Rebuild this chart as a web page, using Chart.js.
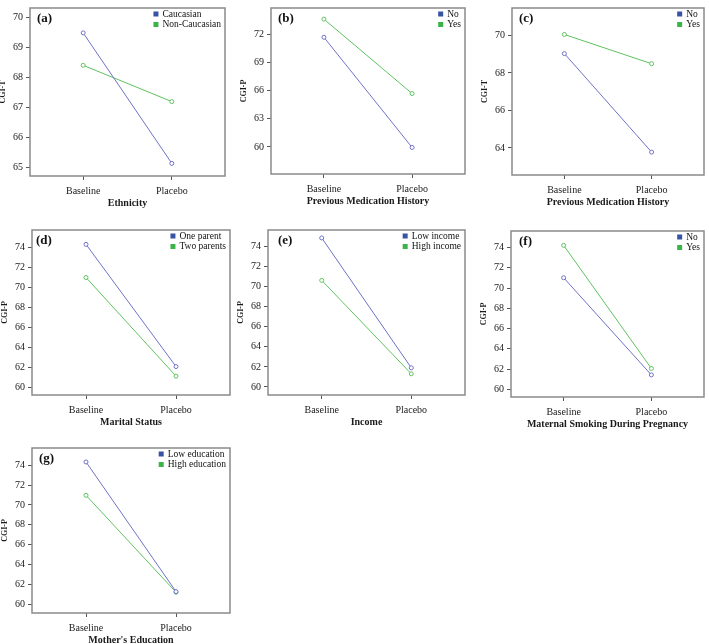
<!DOCTYPE html>
<html>
<head>
<meta charset="utf-8">
<script src="https://cdn.jsdelivr.net/npm/chart.js@4"></script>
<style>
  html, body { margin: 0; padding: 0; background: #fff; }
  body { width: 709px; height: 644px; position: relative; overflow: hidden; }
  canvas { position: absolute; }
</style>
</head>
<body>
<script>
// categories on the x axis (shared by every panel)
const categories = ['Baseline', 'Placebo'];

// (a) Ethnicity, CGI-T
const ethnicityGroups = ['Caucasian', 'Non-Caucasian'];
const caucasian = [69.48, 65.13];
const nonCaucasian = [68.40, 67.19];
const ticksA = [65, 66, 67, 68, 69, 70];

// (b) Previous medication history, CGI-P
const medGroupsB = ['No', 'Yes'];
const medNoP = [71.72, 59.94];
const medYesP = [73.66, 65.70];
const ticksB = [60, 63, 66, 69, 72];

// (c) Previous medication history, CGI-T
const medGroupsC = ['No', 'Yes'];
const medNoT = [69.03, 63.78];
const medYesT = [70.05, 68.49];
const ticksC = [64, 66, 68, 70];

// (d) Marital status, CGI-P
const maritalGroups = ['One parent', 'Two parents'];
const oneParent = [74.29, 62.05];
const twoParents = [70.97, 61.09];

// (e) Income, CGI-P
const incomeGroups = ['Low income', 'High income'];
const lowIncome = [74.86, 61.91];
const highIncome = [70.63, 61.31];

// (f) Maternal smoking, CGI-P
const smokingGroups = ['No', 'Yes'];
const smokingNo = [71.02, 61.42];
const smokingYes = [74.22, 62.06];

// (g) Mother's education, CGI-P
const educationGroups = ['Low education', 'High education'];
const lowEducation = [74.33, 61.26];
const highEducation = [70.97, 61.19];

const ticksP = [60, 62, 64, 66, 68, 70, 72, 74];

Chart.defaults.font.family = '"Liberation Serif", "DejaVu Serif", serif';
Chart.defaults.color = '#1a1a1a';

const LINE = ['#6f72c6', '#5fc25f'];
const SWATCH = ['#3953a4', '#38b449'];

const panels = [
  { tag: '(a)', yTitle: 'CGI-T', xTitle: 'Ethnicity', groups: ethnicityGroups, series: [caucasian, nonCaucasian],
    ticks: ticksA, yMin: 64.71, yMax: 70.31, area: { l: 30, t: 1, r: 228, b: 176 }, tagDx: 7 },
  { tag: '(b)', yTitle: 'CGI-P', xTitle: 'Previous Medication History', groups: medGroupsB, series: [medNoP, medYesP],
    ticks: ticksB, yMin: 57.1, yMax: 74.85, area: { l: 271, t: 1, r: 468, b: 174 }, tagDx: 7 },
  { tag: '(c)', yTitle: 'CGI-T', xTitle: 'Previous Medication History', groups: medGroupsC, series: [medNoT, medYesT],
    ticks: ticksC, yMin: 62.56, yMax: 71.46, area: { l: 512, t: 1, r: 707, b: 175 }, tagDx: 7 },
  { tag: '(d)', yTitle: 'CGI-P', xTitle: 'Marital Status', groups: maritalGroups, series: [oneParent, twoParents],
    ticks: ticksP, yMin: 59.2, yMax: 75.73, area: { l: 32, t: 223, r: 233, b: 395 }, tagDx: 4 },
  { tag: '(e)', yTitle: 'CGI-P', xTitle: 'Income', groups: incomeGroups, series: [lowIncome, highIncome],
    ticks: ticksP, yMin: 59.2, yMax: 75.65, area: { l: 268, t: 223, r: 468, b: 395 }, tagDx: 10 },
  { tag: '(f)', yTitle: 'CGI-P', xTitle: 'Maternal Smoking During Pregnancy', groups: smokingGroups, series: [smokingNo, smokingYes],
    ticks: ticksP, yMin: 59.24, yMax: 75.64, area: { l: 511, t: 224, r: 707, b: 397 }, tagDx: 8 },
  { tag: '(g)', yTitle: 'CGI-P', xTitle: "Mother's Education", groups: educationGroups, series: [lowEducation, highEducation],
    ticks: ticksP, yMin: 59.1, yMax: 75.74, area: { l: 32, t: 441, r: 233, b: 613 }, tagDx: 7 }
];

// frame, panel tag and the small legend inside the plot box
const panelDecor = {
  id: 'panelDecor',
  beforeDatasetsDraw(chart) {
    const { ctx, chartArea: a } = chart;
    ctx.save();
    ctx.strokeStyle = '#8a8a8a';
    ctx.lineWidth = 1.5;
    ctx.strokeRect(a.left, a.top, a.right - a.left, a.bottom - a.top);
    ctx.restore();
  },
  afterDraw(chart, args, opts) {
    const { ctx, chartArea: a } = chart;
    ctx.save();
    ctx.textBaseline = 'middle';
    ctx.textAlign = 'left';
    ctx.fillStyle = '#111';
    ctx.font = 'bold 13px "Liberation Serif"';
    ctx.fillText(opts.tag, a.left + opts.tagDx, a.top + 11);

    ctx.font = '9.5px "Liberation Serif"';
    const sets = chart.data.datasets;
    const w = Math.max(...sets.map(d => ctx.measureText(d.label).width));
    const tx = a.right - 4 - w;
    sets.forEach((d, i) => {
      const y = a.top + 6 + i * 10.5;
      ctx.fillStyle = SWATCH[i];
      ctx.fillRect(tx - 9, y - 2.5, 5, 5);
      ctx.fillStyle = '#111';
      ctx.fillText(d.label, tx, y);
    });
    ctx.restore();
  }
};

const Y_W = 32, X_H = 33, PAD = 2;

panels.forEach(p => {
  const left = p.area.l - Y_W - PAD;
  const top = p.area.t - PAD;
  const width = p.area.r - left + PAD;
  const height = p.area.b + X_H - top;

  const cv = document.createElement('canvas');
  cv.width = width;
  cv.height = height;
  cv.style.left = left + 'px';
  cv.style.top = top + 'px';
  cv.style.width = width + 'px';
  cv.style.height = height + 'px';
  document.body.appendChild(cv);

  new Chart(cv, {
    type: 'line',
    data: {
      datasets: p.series.map((vals, i) => ({
        label: p.groups[i],
        data: vals.map((v, k) => ({ x: k, y: v })),
        borderColor: LINE[i],
        borderWidth: 1,
        tension: 0,
        pointRadius: 2,
        pointBorderWidth: 1,
        pointBackgroundColor: '#fff',
        pointBorderColor: LINE[i]
      }))
    },
    options: {
      responsive: false,
      animation: false,
      events: [],
      layout: { padding: { left: PAD, top: PAD, right: PAD, bottom: 0 } },
      plugins: {
        legend: { display: false },
        tooltip: { enabled: false },
        panelDecor: { tag: p.tag, tagDx: p.tagDx }
      },
      scales: {
        x: {
          type: 'linear',
          min: -0.6,
          max: 1.6,
          afterFit: s => { s.height = X_H; },
          afterBuildTicks: s => { s.ticks = categories.map((c, i) => ({ value: i })); },
          ticks: {
            callback: v => categories[v],
            font: { size: 10 },
            padding: 5,
            maxRotation: 0,
            autoSkip: false
          },
          grid: { display: true, drawOnChartArea: false, drawTicks: true, tickLength: 4, color: '#555' },
          border: { display: false },
          title: { display: true, text: p.xTitle, font: { size: 10, weight: 'bold' }, padding: 0 }
        },
        y: {
          min: p.yMin,
          max: p.yMax,
          afterFit: s => { s.width = Y_W; },
          afterBuildTicks: s => { s.ticks = p.ticks.map(v => ({ value: v })); },
          ticks: { font: { size: 10 }, padding: 3 },
          grid: { display: true, drawOnChartArea: false, drawTicks: true, tickLength: 4, color: '#555' },
          border: { display: false },
          title: { display: true, text: p.yTitle, font: { size: 8, weight: 'bold' }, padding: 0 }
        }
      }
    },
    plugins: [panelDecor]
  });
});
</script>
</body>
</html>
